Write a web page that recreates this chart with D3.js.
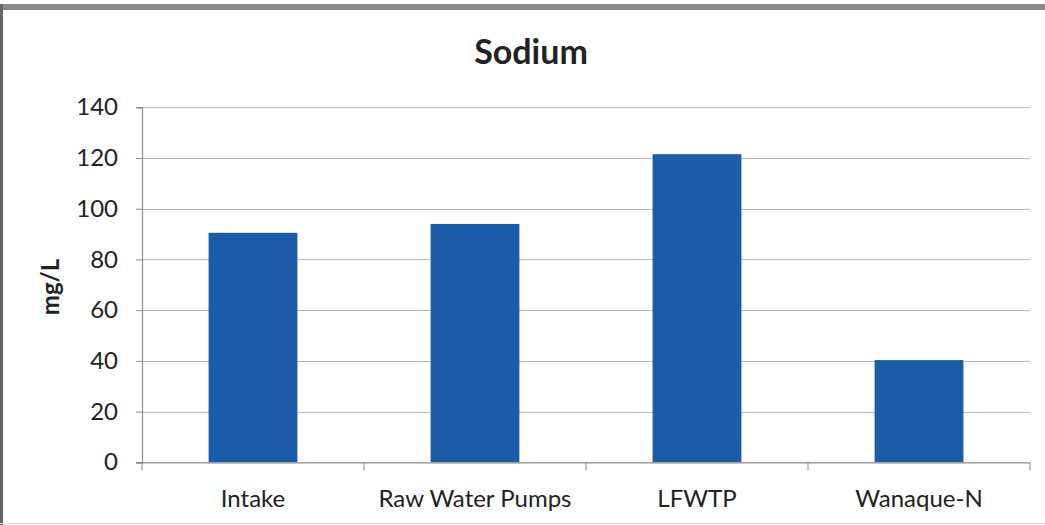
<!DOCTYPE html>
<html>
<head>
<meta charset="utf-8">
<script src="https://cdn.jsdelivr.net/npm/d3@7"></script>
<style>
  html, body { margin: 0; padding: 0; background: #fff; }
  svg { display: block; }
  text { font-family: Lato, "Open Sans", sans-serif; fill: #222; }
</style>
</head>
<body>
<svg id="chart" width="1045" height="525"></svg>
<script>
const categories = ["Intake", "Raw Water Pumps", "LFWTP", "Wanaque-N"];
const values = [90.5, 94.0, 121.5, 40.3];
const yTicks = [0, 20, 40, 60, 80, 100, 120, 140];
const title = "Sodium";
const yLabel = "mg/L";

const svg = d3.select("#chart");
const W = 1045, H = 525;
const plot = { left: 142, right: 1030, top: 107.3, bottom: 462.3 };

// frame
svg.append("rect").attr("x", 0).attr("y", 0).attr("width", W).attr("height", H).attr("fill", "#fff");
svg.append("rect").attr("x", 0).attr("y", 4).attr("width", W).attr("height", 6).attr("fill", "#8a8a8a");
svg.append("rect").attr("x", 0).attr("y", 4).attr("width", 3).attr("height", H - 4).attr("fill", "#666");
svg.append("line").attr("x1", 0).attr("x2", W).attr("y1", 523.5).attr("y2", 523.5).attr("stroke", "#e4e4e4");

const x = d3.scaleBand().domain(categories).range([plot.left, plot.right]).paddingInner(0.6).paddingOuter(0.3);
const y = d3.scaleLinear().domain([0, 140]).range([plot.bottom, plot.top]);

// gridlines
svg.append("g").selectAll("line").data(yTicks.filter(d => d > 0)).join("line")
  .attr("x1", plot.left).attr("x2", plot.right)
  .attr("y1", d => Math.round(y(d)) + 0.5).attr("y2", d => Math.round(y(d)) + 0.5)
  .attr("stroke", "#b8b8b8").attr("stroke-width", 1.2);

// bars
svg.append("g").selectAll("rect").data(categories).join("rect")
  .attr("x", d => x(d)).attr("width", x.bandwidth())
  .attr("y", (d, i) => y(values[i])).attr("height", (d, i) => plot.bottom - y(values[i]))
  .attr("fill", "#1b5ca8");

// y axis
const yAxis = d3.axisLeft(y).tickValues(yTicks).tickSize(6).tickPadding(18).tickFormat(d3.format("d"));
const gy = svg.append("g").attr("transform", `translate(${plot.left},0)`).call(yAxis);
gy.select(".domain").attr("stroke", "#8c8c8c").attr("stroke-width", 1.2);
gy.selectAll(".tick line").attr("stroke", "#8c8c8c");
gy.selectAll(".tick text").attr("font-size", 24).attr("font-family", "Lato, sans-serif").attr("fill", "#222");

// x axis
const gx = svg.append("g").attr("transform", `translate(0,${plot.bottom})`).call(d3.axisBottom(x).tickSize(0).tickPadding(28));
gx.select(".domain").remove();
gx.append("line").attr("x1", plot.left - 6).attr("x2", plot.right).attr("y1", 0.5).attr("y2", 0.5).attr("stroke", "#8c8c8c").attr("stroke-width", 1.2);
const bounds = categories.map(c => x(c) - x.step() * x.paddingInner() / 2).concat([plot.right]);
bounds[0] = plot.left;
gx.selectAll(".bound").data(bounds).join("line").attr("class", "bound")
  .attr("x1", d => d).attr("x2", d => d).attr("y1", 0).attr("y2", 8).attr("stroke", "#8c8c8c");
gx.selectAll(".tick text").attr("font-size", 24).attr("font-family", "Lato, sans-serif").attr("fill", "#222").attr("dy", "0.71em");

// title
svg.append("text").attr("x", 531).attr("y", 64).attr("text-anchor", "middle")
  .attr("font-size", 34).attr("font-weight", "bold").text(title);

// y label
svg.append("text").attr("transform", "translate(59,287) rotate(-90)").attr("text-anchor", "middle")
  .attr("font-size", 24).attr("font-weight", "bold").text(yLabel);
</script>
</body>
</html>
